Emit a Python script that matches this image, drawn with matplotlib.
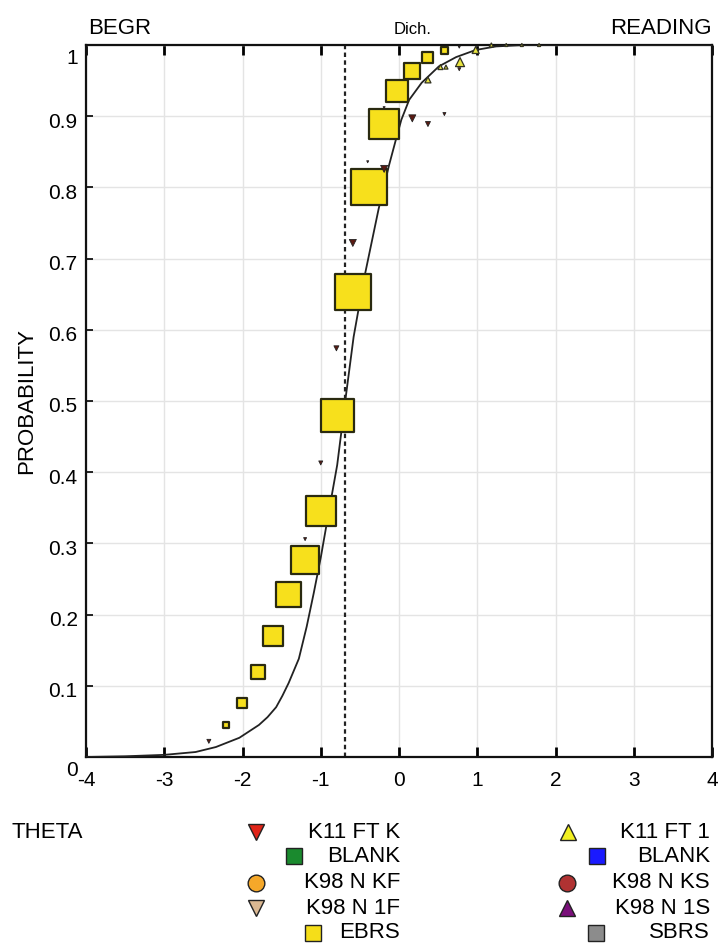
import numpy as np
import matplotlib.pyplot as plt
from matplotlib.transforms import ScaledTranslation

plt.rcParams['font.family'] = ['Liberation Sans', 'DejaVu Sans']

W, H = 721, 948

# model curve
curve_x = [-4.0, -3.5, -3.0, -2.6, -2.34, -2.04, -1.79, -1.68, -1.57, -1.49, -1.41, -1.28, -1.18,
           -1.09, -1.0, -0.92, -0.79, -0.68, -0.58, -0.45, -0.26, -0.13, -0.04,
           0.03, 0.13, 0.29, 0.51, 0.73, 0.98, 1.24, 1.6, 2.0, 4.0]
curve_p = [0.0, 0.001, 0.003, 0.007, 0.014, 0.027, 0.045, 0.056, 0.07, 0.086, 0.104, 0.138, 0.183,
           0.23, 0.28, 0.33, 0.41, 0.506, 0.59, 0.67, 0.77, 0.83, 0.867,
           0.895, 0.923, 0.947, 0.97, 0.983, 0.993, 0.998, 1.0, 1.0, 1.0]

dich_x = -0.69

# EBRS squares (x, p, side in px)
ebrs_x = [-2.21, -2.01, -1.80, -1.61, -1.41, -1.20, -1.00, -0.79, -0.59, -0.38,
          -0.19, -0.03, 0.17, 0.37, 0.58]
ebrs_p = [0.045, 0.076, 0.119, 0.170, 0.228, 0.277, 0.345, 0.48, 0.653, 0.80,
          0.889, 0.935, 0.963, 0.982, 0.992]
ebrs_size = [6, 10, 14, 20, 25, 28, 30, 33, 36, 36, 30, 22, 16, 11, 7]

# K11 FT K (down triangles)
k11k_x = [-2.43, -1.20, -1.00, -0.80, -0.59, -0.40, -0.19, -0.19, 0.17, 0.37, 0.58, 0.77, 0.77]
k11k_p = [0.022, 0.306, 0.413, 0.574, 0.722, 0.836, 0.826, 0.912, 0.897, 0.889, 0.903, 0.966, 0.997]
k11k_size = [4, 3, 4, 5, 7, 2, 7, 2, 7, 5, 3, 3, 2]

# K11 FT 1 (up triangles)
k111_x = [0.37, 0.53, 0.60, 0.78, 0.98, 1.18, 1.37, 1.57, 1.79]
k111_p = [0.951, 0.969, 0.969, 0.976, 0.993, 1.0, 1.0, 1.0, 1.0]
k111_size = [6, 5, 4, 9, 7, 4, 3, 3, 3]

xticks = [-4, -3, -2, -1, 0, 1, 2, 3, 4]
xtick_labels = ['-4', '-3', '-2', '-1', '0', '1', '2', '3', '4']
yticks = [0, 0.1, 0.2, 0.3, 0.4, 0.5, 0.6, 0.7, 0.8, 0.9, 1]
ytick_labels = ['0', '0.1', '0.2', '0.3', '0.4', '0.5', '0.6', '0.7', '0.8', '0.9', '1']

legend_left = [('K11 FT K', 'v', '#e02418', 256), ('BLANK', 's', '#1a8a2e', 294),
               ('K98 N KF', 'o', '#f5a82a', 256), ('K98 N 1F', 'v', '#dbb892', 256),
               ('EBRS', 's', '#f5de19', 313)]
legend_right = [('K11 FT 1', '^', '#f2f020', 568), ('BLANK', 's', '#1a1aff', 597),
                ('K98 N KS', 'o', '#b03232', 567), ('K98 N 1S', '^', '#7a0f7a', 567),
                ('SBRS', 's', '#8c8c8c', 596)]
legend_rows = [832, 856, 883, 908, 933]


def fx(x):
    return x / W


def fy(y):
    return 1 - y / H


def px2pt(s):
    return s * 72 / 100.0


fig = plt.figure(figsize=(W / 100, H / 100), dpi=100)
ax = fig.add_axes([fx(86), fy(757), fx(712) - fx(86), fy(45) - fy(757)])

ax.grid(True, color='#e4e4e4', linewidth=1)
ax.set_axisbelow(True)

ax.axvline(dich_x, color='#222222', linestyle=(0, (2, 1.5)), linewidth=1.6, zorder=2)
ax.plot(curve_x, curve_p, color='#222222', linewidth=1.3, zorder=3)

ax.scatter(ebrs_x, ebrs_p, s=[px2pt(v) ** 2 for v in ebrs_size], marker='s',
           color='#f7e01c', edgecolors='#2a2a10', linewidths=1.6, zorder=4, clip_on=False)
ax.scatter(k11k_x, k11k_p, s=[px2pt(v) ** 2 for v in k11k_size], marker='v',
           color='#5a1a12', edgecolors='#222222', linewidths=0.6, zorder=5, clip_on=False)
ax.scatter(k111_x, k111_p, s=[px2pt(v) ** 2 for v in k111_size], marker='^',
           color='#e8e440', edgecolors='#333322', linewidths=0.9, zorder=5, clip_on=False)

ax.set_xlim(-4, 4)
ax.set_ylim(0, 1)
ax.set_xticks(xticks)
ax.set_xticklabels(xtick_labels)
ax.set_yticks(yticks)
ax.set_yticklabels(ytick_labels)
ax.tick_params(axis='x', direction='in', top=True, bottom=True, length=7, width=2,
               labelsize=15, pad=10)
ax.tick_params(axis='y', direction='in', left=True, right=False, length=5, width=1.2,
               labelsize=15, pad=6)

# tick labels on the left sit a little below their grid lines
ylabs = ax.get_yticklabels()
for i, lab in enumerate(ylabs):
    shift = 4
    if i == 0 or i == len(ylabs) - 1:
        shift = 11
    lab.set_transform(lab.get_transform() + ScaledTranslation(0, -shift / 100, fig.dpi_scale_trans))

for s in ax.spines.values():
    s.set_linewidth(1.6)
    s.set_color('#111111')

ax.set_ylabel('PROBABILITY', fontsize=16, labelpad=8)

fig.text(fx(88), fy(28), 'BEGR', fontsize=16, ha='left', va='center')
fig.text(fx(413), fy(30), 'Dich.', fontsize=12, ha='center', va='center')
fig.text(fx(712), fy(28), 'READING', fontsize=16, ha='right', va='center')
fig.text(fx(11), fy(legend_rows[0]), 'THETA', fontsize=16, ha='left', va='center')

for (label, mk, col, mx), y in zip(legend_left, legend_rows):
    fig.text(fx(400), fy(y), label, fontsize=16, ha='right', va='center')
    fig.lines.append(plt.Line2D([fx(mx)], [fy(y)], marker=mk, markersize=12,
                                markerfacecolor=col, markeredgecolor='#222222',
                                markeredgewidth=1, transform=fig.transFigure))
for (label, mk, col, mx), y in zip(legend_right, legend_rows):
    fig.text(fx(710), fy(y), label, fontsize=16, ha='right', va='center')
    fig.lines.append(plt.Line2D([fx(mx)], [fy(y)], marker=mk, markersize=12,
                                markerfacecolor=col, markeredgecolor='#222222',
                                markeredgewidth=1, transform=fig.transFigure))

fig.savefig('out.png', dpi=100)
